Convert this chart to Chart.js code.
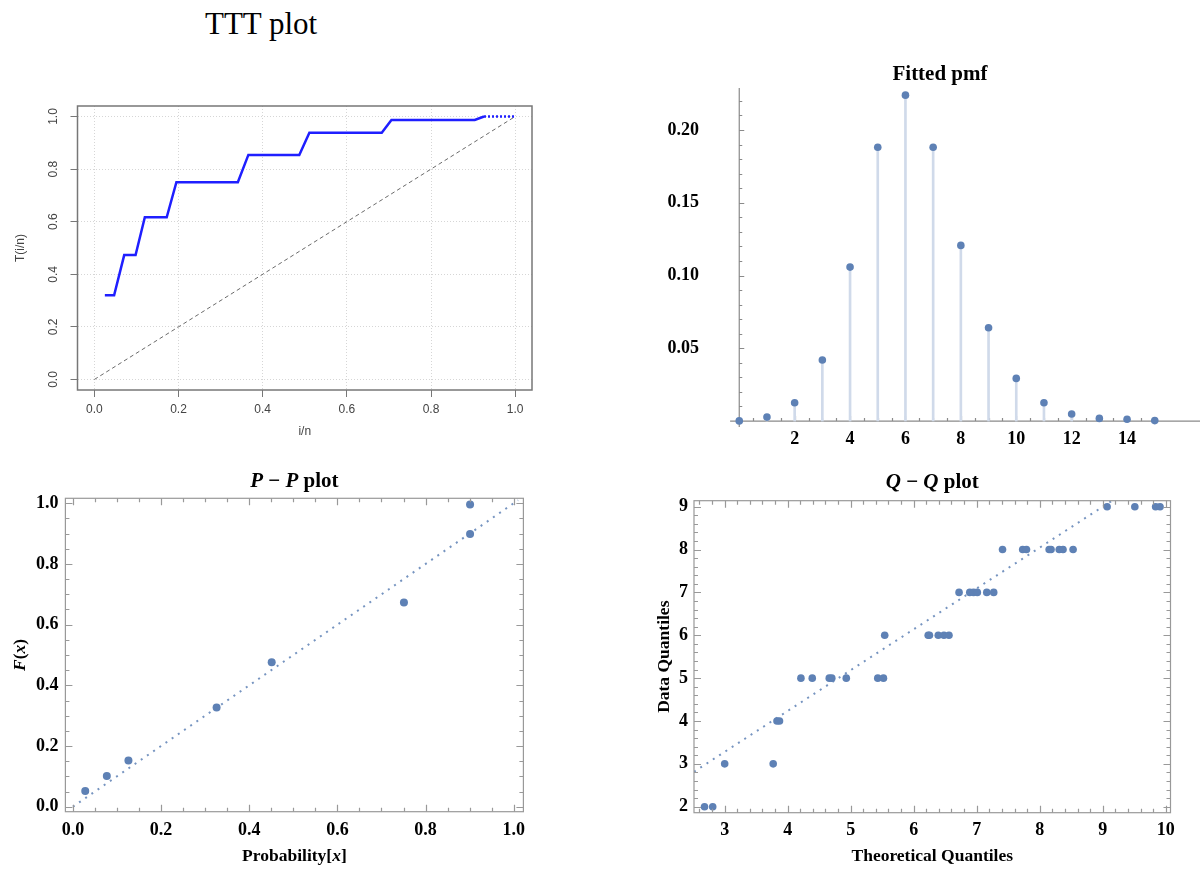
<!DOCTYPE html>
<html>
<head>
<meta charset="utf-8">
<script src="https://cdn.jsdelivr.net/npm/chart.js@4.4.1/dist/chart.umd.min.js"></script>
<style>
  body { margin: 0; background: #fff; width: 1200px; height: 869px; position: relative; overflow: hidden; }
  canvas { position: absolute; }
  #head { position: absolute; left: 205px; top: 8px; font: 31px/31px "Liberation Serif", "Times New Roman", serif; color: #000; }
</style>
</head>
<body>
<div id="head">TTT plot</div>
<canvas id="ttt" width="545" height="360" style="left:0;top:90px"></canvas>
<canvas id="pmf" width="560" height="390" style="left:640px;top:60px"></canvas>
<canvas id="pp" width="545" height="409" style="left:0;top:460px"></canvas>
<canvas id="qq" width="580" height="409" style="left:620px;top:460px"></canvas>
<script>
// ---- data ----
// TTT plot (step curve + diagonal)
const tttX = [0.025, 0.047, 0.071, 0.098, 0.12, 0.172, 0.195, 0.341, 0.366, 0.487, 0.511, 0.683, 0.706, 0.904, 0.926, 1.0];
const tttY = [0.32, 0.32, 0.473, 0.473, 0.617, 0.617, 0.75, 0.75, 0.854, 0.854, 0.938, 0.938, 0.987, 0.987, 1.0, 1.0];
const tttDiagX = [0, 1];
const tttDiagY = [0, 1];
const tttTicks = [0, 0.2, 0.4, 0.6, 0.8, 1.0];

// Fitted pmf
const pmfK = [0, 1, 2, 3, 4, 5, 6, 7, 8, 9, 10, 11, 12, 13, 14, 15];
const pmfP = [0.0001, 0.0027, 0.0126, 0.0419, 0.1058, 0.1882, 0.224, 0.1882, 0.1207, 0.0641, 0.0293, 0.0126, 0.0048, 0.0018, 0.0012, 0.0003];
const pmfXTicks = [2, 4, 6, 8, 10, 12, 14];
const pmfYTicks = [0.05, 0.10, 0.15, 0.20];

// P-P plot
const ppTheo = [0.028, 0.077, 0.126, 0.326, 0.451, 0.751, 0.901, 0.901];
const ppEmp = [0.052, 0.101, 0.152, 0.327, 0.476, 0.673, 0.899, 0.996];
const ppLineX = [0, 1.01];
const ppLineY = [0, 1.01];
const ppTicks = [0, 0.2, 0.4, 0.6, 0.8, 1.0];

// Q-Q plot
const qqTheo = [2.68, 2.81, 3.0, 3.77, 3.83, 3.87, 4.21, 4.39, 4.66, 4.70, 4.93, 5.43, 5.52,
  5.54, 6.23, 6.25, 6.39, 6.48, 6.56, 6.72, 6.89, 6.95, 7.01, 7.16, 7.27,
  7.41, 7.73, 7.79, 8.15, 8.18, 8.31, 8.37, 8.53, 9.07, 9.51, 9.84, 9.91];
const qqData = [2, 2, 3, 3, 4, 4, 5, 5, 5, 5, 5, 5, 5,
  6, 6, 6, 6, 6, 6, 7, 7, 7, 7, 7, 7,
  8, 8, 8, 8, 8, 8, 8, 8, 9, 9, 9, 9];
const qqLineX = [2.513, 9.2];
const qqLineY = [2.816, 9.19];
const qqXTicks = [3, 4, 5, 6, 7, 8, 9, 10];
const qqYTicks = [2, 3, 4, 5, 6, 7, 8, 9];

// ---- helpers ----
const sans = '"Liberation Sans", Arial, sans-serif';
const serif = '"Liberation Serif", "Times New Roman", serif';
const dotBlue = 'rgb(94,129,181)';
const tickFont = { family: serif, size: 18, weight: 'bold' };
const noGrid = { display: false, drawTicks: false };

const pts = (xs, ys) => xs.map((v, i) => ({ x: v, y: ys[i] }));
const fixedTicks = list => s => { s.ticks = list.map(v => ({ value: v })); };

// draw text made of bold / bold-italic pieces, centred at (x, y)
function richText(ctx, parts, x, y, size, vertical) {
  ctx.save();
  ctx.translate(x, y);
  if (vertical) ctx.rotate(-Math.PI / 2);
  ctx.textBaseline = 'middle';
  ctx.textAlign = 'left';
  ctx.fillStyle = '#000';
  const fonts = parts.map(p => (p[1] ? 'italic ' : '') + 'bold ' + size + 'px ' + serif);
  const widths = parts.map((p, i) => { ctx.font = fonts[i]; return ctx.measureText(p[0]).width; });
  let cx = -widths.reduce((a, b) => a + b, 0) / 2;
  parts.forEach((p, i) => { ctx.font = fonts[i]; ctx.fillText(p[0], cx, 0); cx += widths[i]; });
  ctx.restore();
}

// Mathematica-like frame with inward ticks on all four sides
function mmaFrame(chart, o) {
  const { ctx, chartArea: a } = chart;
  const xs = chart.scales.x, ys = chart.scales.y;
  ctx.save();
  ctx.strokeStyle = '#999';
  ctx.lineWidth = 1.2;
  ctx.strokeRect(a.left, a.top, a.right - a.left, a.bottom - a.top);
  ctx.beginPath();
  for (let i = Math.ceil(xs.min / o.xMinor); i * o.xMinor <= xs.max + 1e-9; i++) {
    const v = i * o.xMinor;
    const r = v / o.xMajor;
    const len = Math.abs(r - Math.round(r)) < 1e-6 ? o.maj : o.min;
    const px = Math.round(xs.getPixelForValue(v)) + 0.5;
    ctx.moveTo(px, a.bottom); ctx.lineTo(px, a.bottom - len);
    ctx.moveTo(px, a.top); ctx.lineTo(px, a.top + len);
  }
  for (let i = Math.ceil(ys.min / o.yMinor); i * o.yMinor <= ys.max + 1e-9; i++) {
    const v = i * o.yMinor;
    const r = v / o.yMajor;
    const len = Math.abs(r - Math.round(r)) < 1e-6 ? o.maj : o.min;
    const py = Math.round(ys.getPixelForValue(v)) + 0.5;
    ctx.moveTo(a.left, py); ctx.lineTo(a.left + len, py);
    ctx.moveTo(a.right, py); ctx.lineTo(a.right - len, py);
  }
  ctx.stroke();
  ctx.restore();
}

const baseOpts = {
  responsive: false,
  animation: false,
  events: [],
  plugins: { legend: { display: false }, tooltip: { enabled: false }, title: { display: false } }
};

// ---- TTT plot ----
new Chart(document.getElementById('ttt'), {
  type: 'scatter',
  data: {
    datasets: [
      {
        data: pts(tttX, tttY), showLine: true, borderColor: '#1f1fff', borderWidth: 2.5,
        pointRadius: 0, fill: false,
        segment: { borderDash: c => (c.p1DataIndex === tttX.length - 1 ? [2, 2] : undefined) }
      },
      {
        data: pts(tttDiagX, tttDiagY), showLine: true, borderColor: '#6a6a6a', borderWidth: 1,
        borderDash: [4, 3], pointRadius: 0, fill: false
      }
    ]
  },
  options: {
    ...baseOpts,
    layout: { padding: { left: 0, top: 16, right: 13, bottom: 0 } },
    scales: {
      x: {
        type: 'linear', min: -0.04, max: 1.04,
        afterBuildTicks: fixedTicks(tttTicks),
        afterFit: s => { s.height = 60; },
        grid: { color: '#d6d6d6', tickColor: '#777', tickLength: 7, tickWidth: 1 },
        border: { display: false, dash: [1, 2] },
        ticks: { font: { family: sans, size: 12 }, color: '#444', padding: 5, autoSkip: false, maxRotation: 0, callback: v => v.toFixed(1) }
      },
      y: {
        type: 'linear', min: -0.04, max: 1.04,
        afterBuildTicks: fixedTicks(tttTicks),
        afterFit: s => { s.width = 77.5; },
        grid: { color: '#d6d6d6', tickColor: '#777', tickLength: 7, tickWidth: 1 },
        border: { display: false, dash: [1, 2] },
        ticks: { display: false }
      }
    }
  },
  plugins: [{
    id: 'tttDeco',
    afterDraw(chart) {
      const { ctx, chartArea: a } = chart;
      const ys = chart.scales.y;
      ctx.save();
      ctx.strokeStyle = '#777';
      ctx.lineWidth = 1.5;
      ctx.strokeRect(a.left, a.top, a.right - a.left, a.bottom - a.top);
      ctx.fillStyle = '#444';
      ctx.font = '12px ' + sans;
      ctx.textAlign = 'center';
      ctx.textBaseline = 'middle';
      tttTicks.forEach(v => {
        ctx.save();
        ctx.translate(a.left - 24, ys.getPixelForValue(v));
        ctx.rotate(-Math.PI / 2);
        ctx.fillText(v.toFixed(1), 0, 0);
        ctx.restore();
      });
      const cx = (a.left + a.right) / 2, cy = (a.top + a.bottom) / 2;
      ctx.fillText('i/n', cx, a.bottom + 42);
      ctx.translate(21, cy);
      ctx.rotate(-Math.PI / 2);
      ctx.fillText('T(i/n)', 0, 0);
      ctx.restore();
    }
  }]
});

// ---- Fitted pmf ----
new Chart(document.getElementById('pmf'), {
  type: 'scatter',
  data: {
    datasets: [
      { data: pts(pmfK, pmfP), pointRadius: 3.8, pointBackgroundColor: dotBlue, pointBorderWidth: 0, clip: false },
      { type: 'bar', data: pts(pmfK, pmfP), backgroundColor: 'rgb(208,218,234)', barThickness: 2, borderWidth: 0 }
    ]
  },
  options: {
    ...baseOpts,
    layout: { padding: { left: 0, top: 28, right: 0, bottom: 0 } },
    scales: {
      x: {
        type: 'linear', min: -0.138, max: 15.21,
        afterBuildTicks: fixedTicks(pmfXTicks),
        afterFit: s => { s.height = 23; },
        grid: noGrid, border: { display: false },
        ticks: { font: tickFont, color: '#000', padding: 2, autoSkip: false, maxRotation: 0, callback: v => String(v) }
      },
      y: {
        type: 'linear', min: -0.0041, max: 0.2289,
        afterBuildTicks: fixedTicks(pmfYTicks),
        afterFit: s => { s.width = 60; },
        grid: noGrid, border: { display: false },
        ticks: { font: tickFont, color: '#000', padding: 1, callback: v => v.toFixed(2) }
      }
    }
  },
  plugins: [{
    id: 'pmfAxes',
    beforeDatasetsDraw(chart) {
      const { ctx, chartArea: a } = chart;
      const xs = chart.scales.x, ys = chart.scales.y;
      const x0 = xs.getPixelForValue(0), y0 = ys.getPixelForValue(0);
      ctx.save();
      ctx.strokeStyle = '#8a8a8a';
      ctx.lineWidth = 1.2;
      ctx.beginPath();
      ctx.moveTo(xs.getPixelForValue(-0.33), y0); ctx.lineTo(chart.width, y0);
      ctx.moveTo(x0, a.bottom); ctx.lineTo(x0, a.top);
      for (let i = 1; i * 0.5 <= xs.max; i++) {
        const px = Math.round(xs.getPixelForValue(i * 0.5)) + 0.5;
        const len = i % 4 === 0 ? 5 : 3;
        ctx.moveTo(px, y0); ctx.lineTo(px, y0 - len);
      }
      for (let i = 1; i * 0.01 <= ys.max; i++) {
        const py = Math.round(ys.getPixelForValue(i * 0.01)) + 0.5;
        const len = i % 5 === 0 ? 5 : 3;
        ctx.moveTo(x0, py); ctx.lineTo(x0 + len, py);
      }
      ctx.stroke();
      ctx.restore();
    },
    afterDraw(chart) {
      richText(chart.ctx, [['Fitted pmf', false]], 300, 15, 21, false);
    }
  }]
});

// ---- P-P plot ----
new Chart(document.getElementById('pp'), {
  type: 'scatter',
  data: {
    datasets: [
      { data: pts(ppTheo, ppEmp), pointRadius: 4, pointBackgroundColor: dotBlue, pointBorderWidth: 0 },
      { data: pts(ppLineX, ppLineY), showLine: true, pointRadius: 0, borderColor: 'rgba(94,129,181,0.85)', borderWidth: 2, borderDash: [2, 5.5] }
    ]
  },
  options: {
    ...baseOpts,
    layout: { padding: { left: 0, top: 38.3, right: 21.6, bottom: 0 } },
    scales: {
      x: {
        type: 'linear', min: -0.017, max: 1.022,
        afterBuildTicks: fixedTicks(ppTicks),
        afterFit: s => { s.height = 57.3; },
        grid: noGrid, border: { display: false },
        ticks: { font: tickFont, color: '#000', padding: 8, autoSkip: false, maxRotation: 0, callback: v => v.toFixed(1) }
      },
      y: {
        type: 'linear', min: -0.0165, max: 1.0165,
        afterBuildTicks: fixedTicks(ppTicks),
        afterFit: s => { s.width = 65.4; },
        grid: noGrid, border: { display: false },
        ticks: { font: tickFont, color: '#000', padding: 7, callback: v => v.toFixed(1) }
      }
    }
  },
  plugins: [{
    id: 'ppDeco',
    afterDraw(chart) {
      const { ctx, chartArea: a } = chart;
      mmaFrame(chart, { xMajor: 0.2, xMinor: 0.05, yMajor: 0.2, yMinor: 0.05, maj: 7, min: 4 });
      const cx = (a.left + a.right) / 2, cy = (a.top + a.bottom) / 2;
      richText(ctx, [['P', true], [' \u2212 ', false], ['P', true], [' plot', false]], cx, 21.7, 21, false);
      richText(ctx, [['Probability[', false], ['x', true], [']', false]], cx, 396.7, 17.5, false);
      richText(ctx, [['F', true], ['(', false], ['x', true], [')', false]], 20.7, cy, 17.5, true);
    }
  }]
});

// ---- Q-Q plot ----
new Chart(document.getElementById('qq'), {
  type: 'scatter',
  data: {
    datasets: [
      { data: pts(qqTheo, qqData), pointRadius: 3.8, pointBackgroundColor: dotBlue, pointBorderWidth: 0 },
      { data: pts(qqLineX, qqLineY), showLine: true, pointRadius: 0, borderColor: 'rgba(94,129,181,0.85)', borderWidth: 2, borderDash: [2, 5.5] }
    ]
  },
  options: {
    ...baseOpts,
    layout: { padding: { left: 0, top: 40.7, right: 29.5, bottom: 0 } },
    scales: {
      x: {
        type: 'linear', min: 2.513, max: 10.076,
        afterBuildTicks: fixedTicks(qqXTicks),
        afterFit: s => { s.height = 56.3; },
        grid: noGrid, border: { display: false },
        ticks: { font: tickFont, color: '#000', padding: 7, autoSkip: false, maxRotation: 0, callback: v => String(v) }
      },
      y: {
        type: 'linear', min: 1.86, max: 9.14,
        afterBuildTicks: fixedTicks(qqYTicks),
        afterFit: s => { s.width = 74; },
        grid: noGrid, border: { display: false },
        ticks: { font: tickFont, color: '#000', padding: 6, callback: v => String(v) }
      }
    }
  },
  plugins: [{
    id: 'qqDeco',
    afterDraw(chart) {
      const { ctx, chartArea: a } = chart;
      mmaFrame(chart, { xMajor: 1, xMinor: 0.2, yMajor: 1, yMinor: 0.2, maj: 7, min: 4 });
      const cx = (a.left + a.right) / 2, cy = (a.top + a.bottom) / 2;
      richText(ctx, [['Q', true], [' \u2212 ', false], ['Q', true], [' plot', false]], cx, 23, 21, false);
      richText(ctx, [['Theoretical Quantiles', false]], cx, 396.7, 17.5, false);
      richText(ctx, [['Data Quantiles', false]], 44, cy, 17.5, true);
    }
  }]
});
</script>
</body>
</html>
